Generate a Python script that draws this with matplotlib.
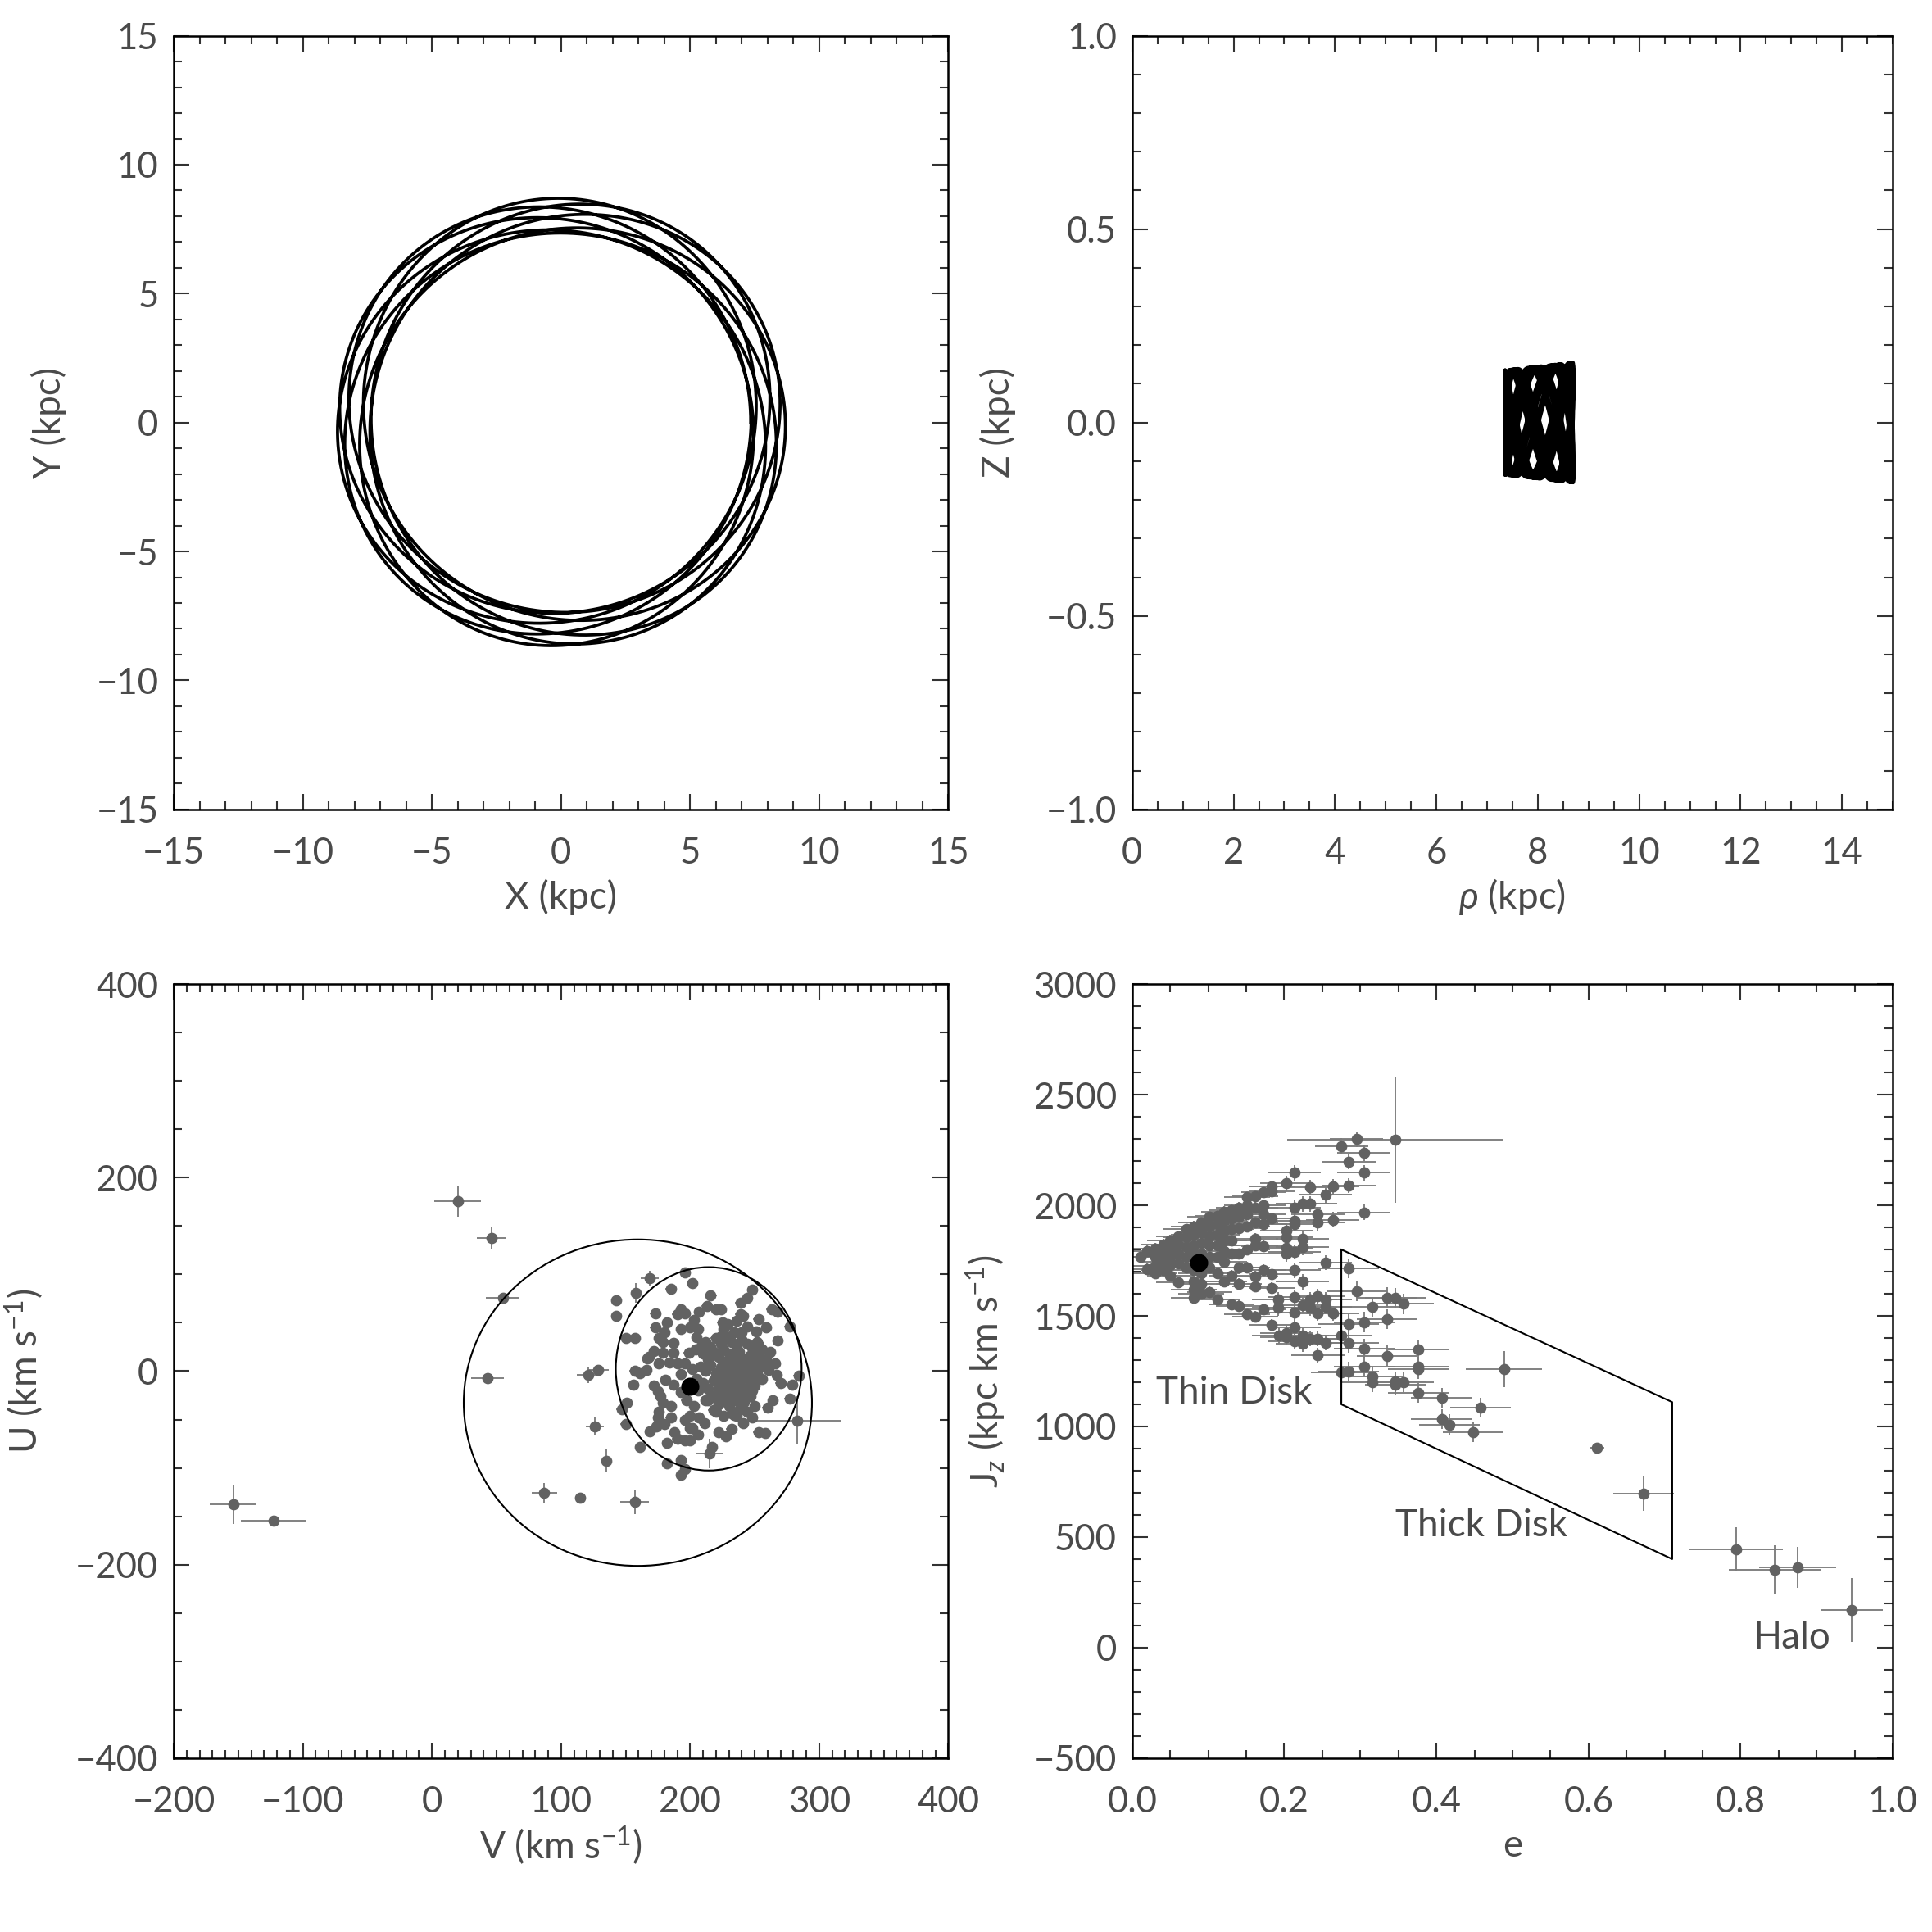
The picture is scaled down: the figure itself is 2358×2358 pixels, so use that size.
import matplotlib
matplotlib.use("Agg")
import matplotlib.pyplot as plt
from matplotlib.ticker import MultipleLocator, FuncFormatter
from matplotlib.patches import Ellipse
import numpy as np

plt.rcParams['font.family'] = ['Lato', 'DejaVu Sans']
plt.rcParams['font.weight'] = 'normal'
plt.rcParams['axes.labelweight'] = 'normal'
plt.rcParams['mathtext.fontset'] = 'custom'
plt.rcParams['mathtext.rm'] = 'Lato'
plt.rcParams['mathtext.it'] = 'Lato:italic'
TXT = '#4a4a4a'
plt.rcParams['text.color'] = TXT
plt.rcParams['axes.labelcolor'] = TXT
plt.rcParams['xtick.color'] = TXT
plt.rcParams['ytick.color'] = TXT

# ---------------- orbit ----------------
r_peri, r_apo = 7.35, 8.70      # kpc
z_amp_in, z_amp_out = 0.135, 0.155  # kpc, vertical amplitude at peri / apo
n_rev = 8.0                      # number of revolutions shown
kappa_ratio = 1.38               # radial / azimuthal frequency
nu_ratio = 3.115                 # vertical / azimuthal frequency

# ---------------- U-V plane ----------------
sun_v, sun_u = 200.0, -16.0
big_circ = (159.5, -32.6, 269.8, 337.4)    # centre V, centre U, width, height
small_circ = (214.4, 2.4, 144.0, 210.2)

# stars with clearly visible error bars: V, U, errV, errU
out_v = [-154, -123, 20, 46, 55, 43, 121, 129, 126, 135, 87, 115, 157, 169, 158, 283, 215, 216]
out_u = [-138, -155, 176, 138, 76, -7, -4, 1, -57, -93, -126, -131, -135, 96, 81, -51, -85, 78]
out_ev = [18, 25, 18, 11, 13, 13, 9, 8, 7, 3, 10, 2, 11, 7, 4, 34, 10, 5]
out_eu = [20, 5, 16, 11, 4, 1, 8, 3, 9, 12, 10, 2, 13, 8, 10, 25, 15, 6]

# the bulk of the sample
uv_v = [212, 216, 220, 224, 228, 232, 236, 240, 244, 248, 252, 256,
        210, 214, 218, 222, 226, 230, 234, 238, 242, 246, 250, 254, 258,
        208, 212, 216, 220, 224, 228, 232, 236, 240, 244, 248, 252, 256,
        210, 214, 218, 222, 226, 230, 234, 238, 242, 246, 250,
        214, 218, 222, 226, 230, 234, 238, 242, 246, 250,
        220, 226, 232, 224, 228, 232, 236, 240, 230, 226, 234, 240,
        218, 244, 236, 222, 228, 232, 236, 224, 244, 248, 252, 230, 238,
        143, 143, 150, 157, 167, 172, 173, 173, 180, 176, 179, 190, 193, 193,
        203, 207, 213, 220, 224, 239, 244, 239, 241, 253, 259, 251, 253, 249,
        259, 255, 261, 267, 250, 246, 247, 240, 234, 225, 229, 224, 240, 168,
        166, 172, 175, 181, 187, 184, 190, 196, 179, 187, 199, 204, 187, 205,
        196, 202, 185, 248, 263, 268, 277, 284, 279, 277,
        248, 253, 258, 241, 232, 228, 222, 217, 206, 200, 202, 200, 196, 193,
        196, 193, 182, 182, 188, 190, 196, 200, 169, 174, 161, 150, 147, 151,
        156, 157, 177, 176, 175, 179, 185, 193, 197, 203, 206, 207, 211, 205,
        202, 193, 185, 180, 200, 196, 182, 176, 161,
        262, 266, 270, 264, 260, 268, 206, 209, 212, 236, 244, 226]
uv_u = [30, 25, 34, 28, 36, 30, 26, 33, 28, 24, 30, 22,
        18, 12, 20, 15, 10, 18, 14, 20, 12, 16, 10, 14, 8,
        5, 0, 6, -2, 4, -4, 2, -6, 0, -3, 3, -2, -8,
        -12, -18, -10, -16, -20, -12, -22, -14, -18, -10, -15,
        -30, -26, -34, -28, -36, -30, -40, -32, -26, -36,
        -42, -46, -44, -8, 8, -26, 8, -24, -2, 22, 40, -8,
        -40, -42, -46, -22, -14, -16, -2, -30, 6, -20, 18, 6, -32,
        73, 57, 34, 34, 13, 21, 45, 60, 40, 34, 30, 59, 64, 44,
        53, 61, 67, 64, 64, 71, 76, 59, 57, 54, 45, 41, 27, 20,
        12, 5, 1, -4, -7, -22, -26, -35, -45, 50, 49, 36, 40, 15,
        1, -15, -21, -9, -14, 9, 8, 8, 19, 19, 19, 22, 29, 35,
        102, 91, 85, 84, 64, 61, 46, -5, -14, -28,
        -48, -63, -64, -54, -60, -67, -63, -78, -66, -59, -59, -46, -50, -92,
        -101, -107, -95, -74, -63, -70, -72, -72, -62, -57, -78, -55, -39, -33,
        -14, 0, -26, -42, -48, -33, -36, -22, -30, -36, -20, -48, -54, -8,
        2, -3, -48, -55, 45, 60, 50, 8, -2,
        20, 8, -12, -30, -38, 32, 44, 26, -30, 52, 46, 44]
uv_ev = 4.0
uv_eu = 3.0

# ---------------- e - Jz plane ----------------
sun_e, sun_j = 0.0875, 1741.0
thick_box_e = [0.275, 0.71, 0.71, 0.275, 0.275]
thick_box_j = [1800, 1110, 400, 1100, 1800]

wedge_e = [0.011,
           0.020, 0.020,
           0.030, 0.030, 0.030, 0.030,
           0.041, 0.041, 0.041, 0.041,
           0.050, 0.050, 0.050, 0.050, 0.050,
           0.061, 0.061, 0.061, 0.061, 0.061,
           0.071, 0.071, 0.071, 0.071, 0.071,
           0.081, 0.081, 0.081, 0.081, 0.081, 0.081, 0.081, 0.081,
           0.091, 0.091, 0.091, 0.091, 0.091, 0.091, 0.091,
           0.102, 0.102, 0.102, 0.102, 0.102, 0.102, 0.102,
           0.112, 0.112, 0.112, 0.112, 0.112, 0.112, 0.112,
           0.121, 0.121, 0.121, 0.121, 0.121, 0.121, 0.121,
           0.131, 0.131, 0.131, 0.131, 0.131, 0.131, 0.131,
           0.140, 0.140, 0.140, 0.140, 0.140, 0.140, 0.140,
           0.151, 0.151, 0.151, 0.151, 0.151, 0.151, 0.151,
           0.162, 0.162, 0.162, 0.162, 0.162, 0.162, 0.162, 0.162,
           0.173, 0.173, 0.173, 0.173, 0.173, 0.173, 0.173,
           0.183, 0.183, 0.183, 0.183, 0.183, 0.183]
wedge_j = [1768,
           1793, 1712,
           1805, 1768, 1725, 1694,
           1823, 1780, 1743, 1706,
           1842, 1805, 1768, 1731, 1681,
           1860, 1823, 1780, 1737, 1651,
           1891, 1854, 1811, 1768, 1719,
           1904, 1867, 1817, 1780, 1706, 1657, 1620, 1583,
           1922, 1879, 1830, 1780, 1694, 1644, 1601,
           1947, 1904, 1860, 1817, 1768, 1719, 1607,
           1953, 1916, 1867, 1817, 1768, 1694, 1573,
           1972, 1928, 1885, 1842, 1793, 1743, 1657,
           1978, 1941, 1891, 1842, 1780, 1681, 1552,
           1990, 1947, 1898, 1780, 1719, 1644, 1546,
           2039, 2002, 1959, 1904, 1799, 1719, 1509,
           2042, 1990, 1922, 1848, 1817, 1679, 1632, 1496,
           2058, 2002, 1959, 1916, 1815, 1709, 1530,
           2085, 2064, 1941, 1688, 1626, 1459]
wedge_ee, wedge_ej = 0.03, 25

mid_e = [0.192, 0.192, 0.193, 0.203, 0.203, 0.203, 0.203, 0.203, 0.203, 0.203,
         0.213, 0.213, 0.213, 0.213, 0.213, 0.213, 0.213, 0.213, 0.213, 0.213,
         0.224, 0.224, 0.224, 0.224, 0.224, 0.224, 0.224,
         0.234, 0.234, 0.234, 0.234, 0.234,
         0.244, 0.244, 0.244, 0.244, 0.244, 0.244,
         0.254, 0.254, 0.254, 0.254, 0.254,
         0.264, 0.264, 0.264, 0.275, 0.285, 0.285, 0.295, 0.305, 0.305, 0.305]
mid_j = [1573, 1536, 1410, 2099, 1885, 1854, 1807, 1780, 1422, 1404,
         2148, 1990, 1928, 1916, 1789, 1706, 1585, 1515, 1447, 1385,
         2006, 1848, 1811, 1654, 1548, 1410, 1373,
         2080, 2006, 1573, 1536, 1398,
         1959, 1922, 1589, 1511, 1398, 1321,
         2048, 1741, 1573, 1541, 1379,
         2085, 1935, 1511, 2268, 2198, 2089, 2299, 2237, 2148, 1968]
mid_ee, mid_ej = 0.035, 35

thick_e = [0.275, 0.285, 0.285, 0.285, 0.275, 0.295, 0.305, 0.305, 0.316, 0.316,
           0.316, 0.335, 0.346, 0.357, 0.335, 0.305, 0.285, 0.335, 0.376, 0.376,
           0.376, 0.346, 0.357, 0.346, 0.376, 0.407, 0.458, 0.407, 0.417, 0.448]
thick_j = [1410, 1716, 1379, 1249, 1246, 1610, 1351, 1270, 1540, 1225,
           1200, 1583, 1580, 1554, 1484, 1472, 1462, 1320, 1348, 1270,
           1258, 1202, 1200, 1188, 1153, 1130, 1085, 1033, 1009, 975]
thick_ee, thick_ej = 0.04, 45

# individual stars with their own error bars: e, Jz, err e, err Jz
ind_e = [0.346, 0.489, 0.611, 0.672, 0.794, 0.845, 0.875, 0.946]
ind_j = [2296, 1259, 902, 697, 445, 352, 363, 171]
ind_ee = [0.142, 0.05, 0.01, 0.04, 0.061, 0.061, 0.051, 0.041]
ind_ej = [285, 83, 12, 80, 100, 110, 92, 145]

PT_COL = '#626262'
ERR_COL = '#7c7c7c'


def minus_fmt(fmt):
    return FuncFormatter(lambda v, p: (fmt % v).replace('-', '\u2212'))


def style(ax, xmaj, xmin, ymaj, ymin, xfmt, yfmt):
    ax.xaxis.set_major_locator(MultipleLocator(xmaj))
    ax.xaxis.set_minor_locator(MultipleLocator(xmin))
    ax.yaxis.set_major_locator(MultipleLocator(ymaj))
    ax.yaxis.set_minor_locator(MultipleLocator(ymin))
    ax.xaxis.set_major_formatter(minus_fmt(xfmt))
    ax.yaxis.set_major_formatter(minus_fmt(yfmt))
    ax.tick_params(which='both', direction='in', top=True, right=True,
                   width=0.5, color='#333333', labelsize=10.5)
    ax.tick_params(which='major', length=4.5)
    ax.tick_params(which='minor', length=2.3)
    ax.tick_params(axis='x', pad=8)
    ax.tick_params(axis='y', pad=4.5)
    for s in ax.spines.values():
        s.set_linewidth(0.6)
        s.set_color('black')


def labels(ax, xl, yl, ypos):
    ax.set_xlabel(xl, fontsize=11)
    ax.set_ylabel(yl, fontsize=11)
    ax.xaxis.set_label_coords(0.5, -0.113)
    ax.xaxis.label.set_va('center')
    ax.yaxis.set_label_coords(ypos, 0.5)
    ax.yaxis.label.set_va('center')


fig = plt.figure(figsize=(7.86, 7.86), dpi=300)
ax1 = fig.add_axes([0.0900, 0.5811, 0.4008, 0.4004])
ax2 = fig.add_axes([0.5860, 0.5811, 0.3937, 0.4004])
ax3 = fig.add_axes([0.0900, 0.0900, 0.4008, 0.4006])
ax4 = fig.add_axes([0.5860, 0.0900, 0.3937, 0.4006])

# orbit: epicyclic approximation with the radii
r0 = 0.5 * (r_peri + r_apo)
a = 0.5 * (r_apo - r_peri)
t = np.linspace(0, 2 * np.pi * n_rev, 16000)
rr = r0 - a * np.cos(kappa_ratio * t)
phi = t + (2.0 / kappa_ratio) * (a / r0) * np.sin(kappa_ratio * t)
zamp = z_amp_in + (z_amp_out - z_amp_in) * (rr - r_peri) / (r_apo - r_peri)
zz = zamp * np.sin(nu_ratio * t)

ax1.plot(rr * np.cos(phi), rr * np.sin(phi), color='black', lw=0.9)
ax1.set_xlim(-15, 15)
ax1.set_ylim(-15, 15)
style(ax1, 5, 1, 5, 1, '%d', '%d')
labels(ax1, 'X (kpc)', 'Y (kpc)', -0.161)

ax2.plot(rr, zz, color='black', lw=1.1)
ax2.set_xlim(0, 15)
ax2.set_ylim(-1, 1)
style(ax2, 2, 0.5, 0.5, 0.1, '%d', '%.1f')
labels(ax2, r'$\rho$ (kpc)', 'Z (kpc)', -0.176)

# U-V
ax3.errorbar(uv_v, uv_u, xerr=uv_ev, yerr=uv_eu, fmt='o', ms=2.3, mfc=PT_COL, mec=PT_COL,
             ecolor=ERR_COL, elinewidth=0.45, capsize=0)
ax3.errorbar(out_v, out_u, xerr=out_ev, yerr=out_eu, fmt='o', ms=2.3, mfc=PT_COL, mec=PT_COL,
             ecolor=ERR_COL, elinewidth=0.45, capsize=0)
for cv, cu, w, h in (big_circ, small_circ):
    ax3.add_patch(Ellipse((cv, cu), w, h, fill=False, lw=0.5, color='black', zorder=4))
ax3.plot(sun_v, sun_u, 'o', ms=4.3, color='black', zorder=5)
ax3.set_xlim(-200, 400)
ax3.set_ylim(-400, 400)
style(ax3, 100, 10, 200, 50, '%d', '%d')
labels(ax3, 'V (km s$^{-1}$)', 'U (km s$^{-1}$)', -0.193)

# e - Jz
for ee, jj, ex, ey in ((wedge_e, wedge_j, wedge_ee, wedge_ej),
                       (mid_e, mid_j, mid_ee, mid_ej),
                       (thick_e, thick_j, thick_ee, thick_ej),
                       (ind_e, ind_j, ind_ee, ind_ej)):
    ax4.errorbar(ee, jj, xerr=ex, yerr=ey, fmt='o', ms=2.3, mfc=PT_COL, mec=PT_COL,
                 ecolor=ERR_COL, elinewidth=0.45, capsize=0)
ax4.plot(thick_box_e, thick_box_j, color='black', lw=0.5, zorder=4)
ax4.plot(sun_e, sun_j, 'o', ms=4.3, color='black', zorder=5)
ax4.text(0.031, 1150, 'Thin Disk', fontsize=11, va='center')
ax4.text(0.346, 552, 'Thick Disk', fontsize=11, va='center')
ax4.text(0.817, 43, 'Halo', fontsize=11, va='center')
ax4.set_xlim(0, 1)
ax4.set_ylim(-500, 3000)
style(ax4, 0.2, 0.05, 500, 100, '%.1f', '%d')
labels(ax4, 'e', 'J$_z$ (kpc km s$^{-1}$)', -0.192)

fig.savefig('out.png', dpi=300)
